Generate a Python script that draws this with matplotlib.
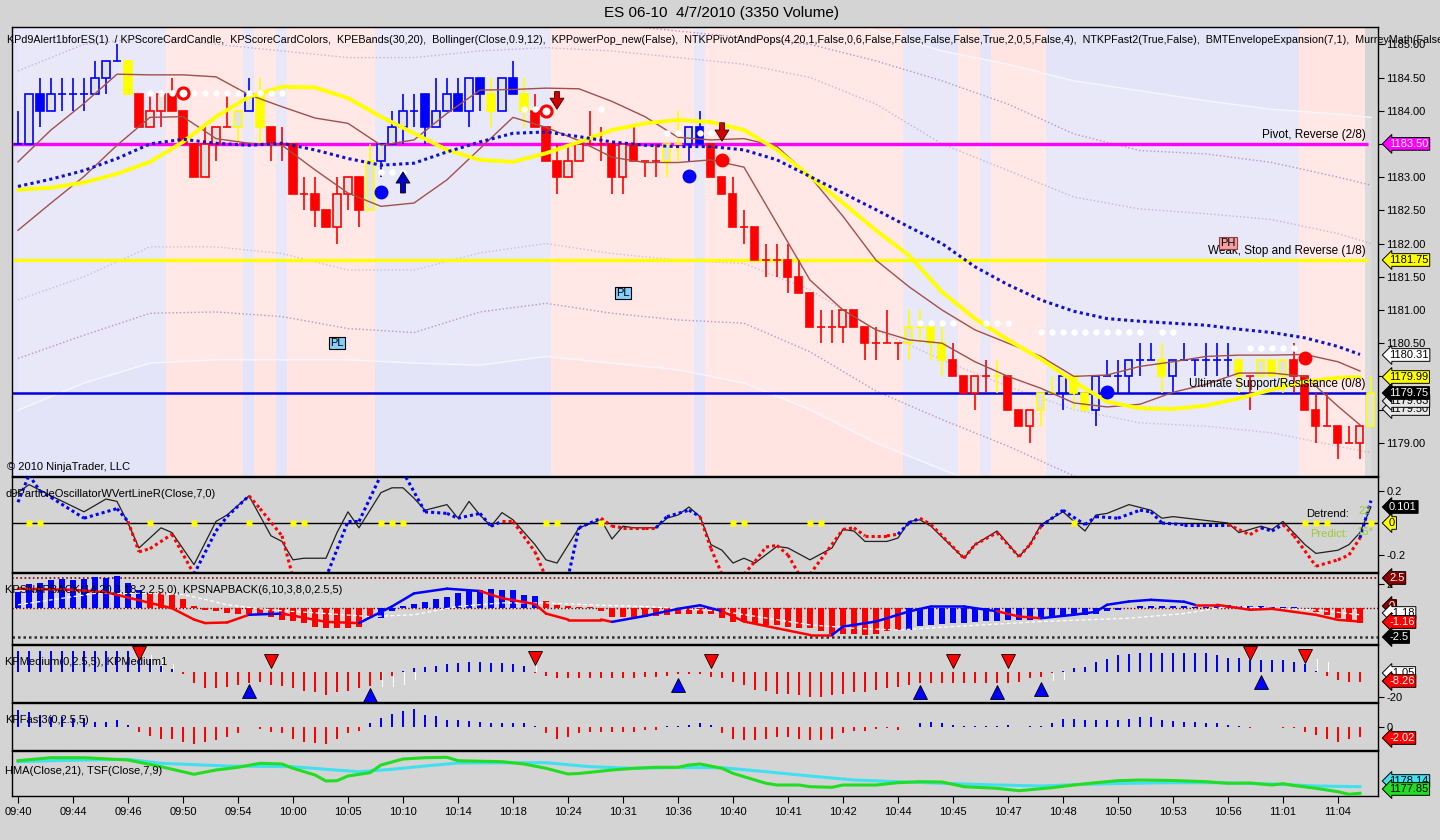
import numpy as np
import matplotlib
matplotlib.use('Agg')
import matplotlib.pyplot as plt
from matplotlib.patches import Rectangle

plt.rcParams['font.family'] = ['Liberation Sans', 'DejaVu Sans']

# ---------------- data ----------------
opens = [1183.50,1183.50,1184.25,1184.00,1184.25,1184.25,1184.25,1184.25,1184.50,1184.75,
         1184.75,1184.25,1183.75,1184.00,1184.25,1184.00,1183.50,1183.00,1183.50,1183.75,
         1183.75,1184.00,1184.25,1183.75,1183.50,1183.50,1182.75,1182.75,1182.50,1182.25,
         1182.75,1183.00,1182.50,1183.25,1183.50,1183.75,1184.00,1184.25,1183.75,1184.00,
         1184.25,1184.00,1184.50,1184.25,1184.00,1184.50,1184.25,1184.00,1183.75,1183.25,
         1183.00,1183.25,1183.50,1183.50,1183.50,1183.00,1183.50,1183.25,1183.25,1183.25,
         1183.50,1183.50,1183.75,1183.50,1183.00,1182.75,1182.25,1182.25,1181.75,1181.75,
         1181.75,1181.50,1181.25,1180.75,1180.75,1180.75,1181.00,1180.75,1180.50,1180.50,
         1180.50,1180.50,1180.75,1180.75,1180.50,1180.25,1180.00,1179.75,1180.00,1180.00,
         1180.00,1179.50,1179.25,1179.50,1179.75,1179.75,1180.00,1179.75,1179.50,1180.00,
         1180.00,1180.00,1180.25,1180.25,1180.25,1180.00,1180.25,1180.25,1180.25,1180.25,
         1180.25,1180.25,1180.00,1180.00,1180.25,1180.00,1180.25,1180.00,1179.50,1179.25,
         1179.25,1179.00,1179.00,1179.25]
highs = [1184.00,1184.25,1184.50,1184.50,1184.50,1184.50,1184.50,1184.75,1184.75,1185.00,
         1184.75,1184.25,1184.25,1184.25,1184.50,1184.00,1183.50,1183.75,1183.75,1184.25,
         1184.00,1184.50,1184.50,1183.75,1183.75,1183.50,1183.00,1183.00,1182.50,1183.00,
         1183.00,1183.00,1183.50,1183.50,1184.00,1184.25,1184.25,1184.25,1184.50,1184.50,
         1184.50,1184.50,1184.50,1184.50,1184.50,1184.75,1184.50,1184.25,1183.75,1183.50,
         1183.50,1183.50,1184.00,1183.75,1183.50,1183.50,1183.75,1183.25,1183.50,1183.50,
         1184.00,1183.75,1184.00,1183.50,1183.00,1183.00,1182.50,1182.25,1182.00,1182.00,
         1182.00,1181.75,1181.25,1181.00,1181.00,1181.00,1181.00,1180.75,1180.75,1181.00,
         1180.50,1181.00,1181.00,1180.75,1180.75,1180.50,1180.00,1180.00,1180.25,1180.25,
         1180.00,1179.50,1179.50,1179.75,1180.00,1180.00,1180.00,1179.75,1180.00,1180.25,
         1180.25,1180.25,1180.50,1180.50,1180.50,1180.25,1180.50,1180.25,1180.50,1180.50,
         1180.50,1180.25,1180.00,1180.25,1180.25,1180.25,1180.50,1180.00,1179.75,1179.75,
         1179.25,1179.25,1179.25,1180.00]
lows = [1183.50,1183.50,1183.75,1184.00,1184.00,1184.00,1184.00,1184.25,1184.25,1184.75,
        1184.25,1183.75,1183.75,1183.75,1184.00,1183.50,1183.00,1183.00,1183.25,1183.75,
        1183.50,1184.00,1183.50,1183.25,1183.25,1182.75,1182.50,1182.25,1182.25,1182.00,
        1182.50,1182.25,1182.50,1183.00,1183.50,1183.50,1183.75,1183.50,1183.75,1184.00,
        1184.00,1183.75,1184.00,1183.75,1184.00,1184.25,1183.75,1183.75,1183.25,1182.75,
        1183.00,1183.25,1183.50,1183.25,1182.75,1182.75,1183.25,1183.00,1183.00,1183.00,
        1183.25,1183.25,1183.50,1183.00,1182.75,1182.25,1182.00,1181.75,1181.50,1181.50,
        1181.25,1181.25,1180.75,1180.50,1180.50,1180.50,1180.75,1180.25,1180.25,1180.50,
        1180.25,1180.25,1180.50,1180.25,1180.00,1180.00,1179.75,1179.50,1179.75,1179.75,
        1179.50,1179.25,1179.00,1179.25,1179.75,1179.50,1179.50,1179.50,1179.25,1180.00,
        1179.75,1179.75,1180.00,1180.25,1179.75,1179.75,1180.25,1180.00,1180.00,1180.00,
        1180.00,1179.75,1179.50,1180.00,1180.00,1179.75,1179.75,1179.50,1179.00,1179.25,
        1178.75,1179.00,1178.75,1179.25]
closes = [1183.50,1184.25,1184.00,1184.25,1184.25,1184.25,1184.25,1184.50,1184.75,1184.75,
          1184.25,1183.75,1184.00,1184.25,1184.00,1183.50,1183.00,1183.50,1183.75,1183.75,
          1184.00,1184.25,1183.75,1183.50,1183.50,1182.75,1182.75,1182.50,1182.25,1182.75,
          1183.00,1182.50,1183.25,1183.50,1183.75,1184.00,1184.00,1183.75,1184.00,1184.25,
          1184.00,1184.50,1184.25,1184.00,1184.50,1184.25,1184.00,1183.75,1183.25,1183.00,
          1183.25,1183.50,1183.50,1183.50,1183.00,1183.50,1183.25,1183.25,1183.25,1183.50,
          1183.50,1183.75,1183.50,1183.00,1182.75,1182.25,1182.25,1181.75,1181.75,1181.75,
          1181.50,1181.25,1180.75,1180.75,1180.75,1181.00,1180.75,1180.50,1180.50,1180.50,
          1180.50,1180.75,1180.75,1180.50,1180.25,1180.00,1179.75,1180.00,1180.00,1180.00,
          1179.50,1179.25,1179.50,1179.75,1179.75,1180.00,1179.75,1179.50,1180.00,1180.00,
          1180.00,1180.25,1180.25,1180.25,1180.00,1180.25,1180.25,1180.25,1180.25,1180.25,
          1180.25,1180.00,1180.00,1180.25,1180.00,1180.25,1180.00,1179.50,1179.25,1179.25,
          1179.00,1179.00,1179.25,1179.75]
bar_colors = ("bbbbbbbbbbyrrrrrrrrryby" "rrrrrrrrry" "bbbbbbbbbbyb" "byrrrrrrrrrrrryybb"
              "rrrrrrrrrrrrrrrrrryyyy" "rrrryrrryyby" "ybbbbbbybbbbbbyryyyrrrrrrry")

time_labels = ["09:40", "09:44", "09:46", "09:50", "09:54", "10:00", "10:05", "10:10", "10:14",
               "10:18", "10:24", "10:31", "10:36", "10:40", "10:41", "10:42", "10:44", "10:45",
               "10:47", "10:48", "10:50", "10:53", "10:56", "11:01", "11:04"]

pink_spans = [(13.5, 20.5), (21.5, 23.5), (24.5, 32.5), (48.5, 61.5), (62.5, 80.5),
              (85.5, 87.5), (88.5, 93.5), (116.5, 122.5)]

# main panel indicator lines, sampled every 3 bars
line_x = list(range(0, 121, 3)) + [122]
yellow_line = [1182.81,1182.84,1182.92,1183.05,1183.23,1183.53,1183.91,1184.21,1184.36,1184.35,
               1184.19,1183.91,1183.66,1183.41,1183.26,1183.23,1183.36,1183.53,1183.71,1183.81,
               1183.86,1183.83,1183.71,1183.41,1183.01,1182.61,1182.20,1181.82,1181.27,1180.87,
               1180.55,1180.26,1179.92,1179.62,1179.52,1179.51,1179.56,1179.67,1179.80,1179.92,
               1179.98,1179.99]
blue_mid = [1182.86,1182.97,1183.10,1183.28,1183.50,1183.57,1183.51,1183.48,1183.51,1183.41,
            1183.28,1183.18,1183.21,1183.38,1183.53,1183.66,1183.68,1183.61,1183.53,1183.48,
            1183.46,1183.46,1183.41,1183.26,1183.01,1182.76,1182.51,1182.25,1182.00,1181.65,
            1181.38,1181.15,1180.98,1180.87,1180.83,1180.80,1180.77,1180.71,1180.66,1180.58,
            1180.45,1180.33]
boll_upper = [1183.23,1183.71,1184.11,1184.55,1184.54,1184.54,1184.51,1184.24,1184.06,1183.89,
              1183.81,1183.48,1183.56,1183.96,1184.31,1184.32,1184.34,1184.33,1184.14,1183.91,
              1183.60,1183.56,1183.58,1183.46,1183.01,1182.41,1181.75,1181.35,1181.00,1180.70,
              1180.50,1180.30,1180.00,1180.02,1180.15,1180.22,1180.30,1180.32,1180.32,1180.33,
              1180.22,1180.08]
boll_lower = [1182.20,1182.61,1183.01,1183.48,1183.90,1183.91,1183.58,1183.51,1183.48,1183.11,
              1182.76,1182.56,1182.61,1182.96,1183.43,1183.90,1183.75,1183.55,1183.30,1183.22,
              1183.22,1183.26,1183.15,1182.30,1181.45,1181.00,1180.70,1180.55,1180.50,1180.22,
              1180.00,1179.82,1179.60,1179.54,1179.58,1179.76,1179.88,1180.05,1180.05,1180.00,
              1179.55,1179.27]

# envelope lines, sampled every 6 bars
env_x = [0, 6, 12, 18, 24, 30, 36, 42, 48, 54, 60, 66, 72, 78, 84, 90, 96, 102, 108, 114, 120, 123]
env_hi2 = [1185.6,1185.7,1185.6,1185.5,1185.4,1185.3,1185.3,1185.4,1185.4,1185.3,1185.2,1185.1,
           1185.0,1184.75,1184.45,1184.1,1183.65,1183.4,1183.35,1183.22,1183.0,1182.88]
env_hi1 = [1184.6,1185.0,1185.1,1185.0,1184.9,1184.8,1184.8,1184.9,1184.95,1184.9,1184.8,1184.7,
           1184.5,1184.1,1183.5,1183.1,1182.7,1182.52,1182.45,1182.36,1182.15,1182.0]
env_lo0 = [1181.15,1181.5,1181.95,1181.95,1181.85,1181.6,1181.6,1181.86,1182.0,1181.85,1181.75,
           1181.7,1181.3,1180.7,1180.25,1179.85,1179.5,1179.3,1179.25,1179.15,1178.95,1178.85]
env_lo1 = [1180.27,1180.62,1180.95,1180.97,1180.90,1180.72,1180.66,1180.97,1181.10,1180.95,
           1180.85,1180.80,1180.37,1179.78,1179.35,1178.95,1178.5,1178.3,1178.2,1178.1,1178.0,
           1177.95]
wh_lo = [1179.49,1179.9,1180.2,1180.25,1180.25,1180.25,1180.2,1180.17,1180.3,1180.2,1180.1,
         1179.9,1179.5,1179.0,1178.6,1178.2,1177.9,1177.7,1177.6,1177.5,1177.4,1177.3]
wh_hi = [1186.5,1186.6,1186.6,1186.5,1186.4,1186.3,1186.3,1186.4,1186.4,1186.3,1186.2,1186.0,
         1185.6,1185.2,1184.9,1184.7,1184.45,1184.3,1184.15,1184.02,1183.95,1183.9]

murrey_levels = [1183.50, 1181.75, 1179.75]
murrey_names = ["Pivot, Reverse (2/8)", "Weak, Stop and Reverse (1/8)",
                "Ultimate Support/Resistance (0/8)"]

white_dot_x = [12,13,14,16,17,18,19,20,21,22,23,24,33,34,35,46,47,53,59,60,62,63,
               82,83,84,85,88,89,90,93,94,95,96,97,98,99,100,101,102,104,105,112,113,114,115,116]
white_dot_y = [1184.26]*12 + [1183.08]*3 + [1184.03]*3 + [1183.66]*4 + [1180.81]*4 + \
              [1180.80]*3 + [1180.67]*12 + [1180.43]*5
red_ring_x = [15, 48]
red_ring_y = [1184.26, 1184.0]
blue_dot_x = [33, 61, 99]
blue_dot_y = [1182.77, 1183.01, 1179.77]
red_dot_x = [64, 117]
red_dot_y = [1183.26, 1180.27]

# oscillator panel
osc_x = [0,1,3,6,8,9,10,11,13,14,16,18,19,21,23,24,25,26,28,29,30,31,33,34,35,36,37,39,40,41,
         42,43,44,45,47,48,49,51,53,54,55,56,58,59,60,61,62,63,64,65,66,67,69,70,72,74,75,76,77,
         79,80,81,82,83,86,87,89,91,92,93,95,97,98,99,101,103,104,105,110,111,113,114,115,117,
         118,120,121,122,123]
osc_black = [0.19,0.24,0.17,0.07,0.15,0.135,0.0,-0.156,-0.03,-0.06,-0.26,0.01,0.05,0.17,-0.08,
             -0.115,-0.23,-0.22,-0.22,-0.06,0.07,-0.03,0.19,0.22,0.22,0.155,0.08,0.115,0.03,0.135,
             0.05,-0.02,0.065,0.02,-0.135,-0.23,-0.25,-0.03,0.02,-0.10,-0.02,-0.03,-0.03,0.03,
             0.05,0.10,0.04,-0.135,-0.17,-0.25,-0.22,-0.25,-0.146,-0.156,-0.23,-0.156,-0.04,
             -0.05,-0.115,-0.115,-0.094,0.01,0.02,-0.02,-0.22,-0.135,-0.05,-0.21,-0.135,-0.01,
             0.07,-0.05,0.05,0.06,0.115,0.08,0.03,0.04,0.0,-0.06,-0.02,-0.04,0.01,-0.135,-0.19,
             -0.17,-0.135,-0.06,0.10]
sig_x = [0,1,2,3,6,9,10,11,12,14,16,18,19,21,22,24,25,28,30,31,33,34,35,37,39,40,42,43,44,45,
         47,48,50,51,53,54,55,57,58,59,61,62,63,64,66,67,68,69,70,71,72,75,76,77,79,80,81,82,83,
         86,87,89,91,92,93,95,97,98,100,102,103,104,106,110,112,113,114,115,116,118,120,121,122,123]
sig_vals = [0.13,0.30,0.20,0.16,0.03,0.09,0.01,-0.18,-0.16,-0.07,-0.32,-0.05,0.04,0.17,0.09,
            -0.08,-0.34,-0.34,0.01,0.01,0.30,0.36,0.32,0.07,0.06,0.03,0.06,-0.02,0.01,0.01,
            -0.18,-0.34,-0.34,-0.03,0.03,-0.02,-0.03,-0.03,-0.03,0.04,0.08,0.04,-0.16,-0.32,
            -0.32,-0.24,-0.15,-0.14,-0.20,-0.32,-0.32,-0.04,-0.03,-0.08,-0.08,-0.07,0.0,0.03,
            -0.01,-0.22,-0.135,-0.06,-0.21,-0.135,-0.02,0.08,-0.01,0.04,0.03,0.08,0.07,0.0,
            -0.01,-0.01,-0.073,-0.03,-0.05,-0.01,-0.08,-0.27,-0.23,-0.20,-0.094,0.14]
sig_blue_spans = [(0, 10), (16, 21), (28, 44), (50, 53), (58, 62), (80, 82), (93, 110),
                  (113, 115), (122, 123)]
osc_marks = [1,2,12,16,21,25,26,33,34,35,48,49,53,65,66,72,73,96,117,118,119,123]

# KPSNAPBACK panel
snap_hist = [1.3,2.0,2.1,2.3,2.4,2.3,2.4,2.6,2.5,2.7,2.1,1.5,1.2,1.2,1.1,0.7,0.1,-0.2,-0.3,-0.45,
             -0.5,-0.5,-0.6,-0.75,-1.0,-1.15,-1.3,-1.6,-1.75,-1.75,-1.75,-1.6,-0.9,-0.9,-0.3,0.1,
             0.3,0.5,0.7,0.9,1.2,1.4,1.5,1.6,1.5,1.5,1.1,1.0,0.6,0.2,0.1,0.05,0.05,-0.3,-0.8,-0.8,
             -0.75,-0.75,-0.7,-0.6,-0.55,-0.5,-0.5,-0.55,-0.9,-1.2,-1.2,-1.35,-1.45,-1.5,-1.6,-1.7,
             -1.75,-2.0,-2.2,-2.2,-2.2,-2.3,-2.2,-2.0,-1.9,-1.9,-1.55,-1.45,-1.4,-1.3,-1.3,-1.2,
             -1.1,-1.1,-1.0,-1.0,-1.0,-0.9,-0.8,-0.7,-0.6,-0.6,-0.5,-0.3,-0.2,0.0,0.1,0.1,0.1,0.1,
             0.1,0.05,0.05,0.15,0.2,0.1,0.1,0.1,0.05,0.05,0.05,0.0,-0.4,-0.6,-0.9,-1.0,-1.3,np.nan]
snap_blue_spans = [(0, 12), (33, 48), (81, 117)]
snap_x = [0,5,8,12,14,16,17,19,21,24,28,31,34,36,39,42,44,47,48,50,53,54,57,60,62,64,66,69,72,
          74,75,78,81,83,86,88,89,91,93,96,98,99,101,103,106,107,109,112,114,118,120,122]
snap_line = [1.6,1.5,1.3,0.4,-0.05,-1.0,-1.3,-1.25,-0.6,-0.5,-1.2,-1.3,0.1,1.2,1.6,1.4,0.8,0.3,
             -0.5,-1.0,-1.0,-1.2,-0.7,-0.1,0.2,-0.3,-1.17,-1.74,-2.3,-2.3,-1.6,-1.17,-0.32,0.1,
             0.1,-0.18,-0.3,-0.75,-0.89,-0.6,-0.35,0.24,0.52,0.66,0.5,0.24,0.24,-0.18,-0.1,
             -0.61,-1.03,-1.17]
snap_line_blue = [(21, 24), (31, 42), (54, 64), (74, 89), (93, 107)]
snap_white_x = [0,7,12,15,17,19,23,28,32,36,40,44,48,53,57,64,72,76,80,85,93,101,106,110,114,118,122]
snap_white = [0.24,1.2,1.2,1.1,0.7,0.24,-0.2,-0.5,-0.75,-0.6,0.1,0.4,0.4,0.2,0.1,-0.3,-1.45,
              -1.74,-1.88,-1.6,-1.17,-0.89,-0.5,0.1,-0.05,-0.2,-0.6]

# KPMedium panel
kp_medium = [16,16,16,16,16,16,16,16,16,16,16,15,10,5,2,-2,-9,-13,-13,-12,-10,-9,-8,-10,-11,
             -13,-15,-16,-18,-16,-15,-13,-11,-6,-3,1,3,4,5,6,7,8,8,7,7,6,5,-1,-3,-5,-5,-5,-5,
             -5,-5,-5,-5,-4,-4,-3,-2,-2,-2,-4,-5,-8,-10,-14,-15,-17,-17,-18,-20,-20,-18,-17,
             -16,-16,-14,-13,-12,-10,-9,-9,-9,-9,-9,-9,-9,-9,-9,-8,-5,-4,-1,1,3,4,8,10,13,14,
             14.5,14.5,14.5,14.5,14.5,14.5,14.5,13,10.5,10.5,9,9,9,9,8,6,1,-3,-6,-8,-8,np.nan]
medium1_x = [12, 13, 14, 33, 34, 35, 36, 47, 94, 95, 118, 119]
medium1 = [13, 11, 6, -12, -12, -10, -6, 9, -7, -6, 10, 8]
med_dn_x = [11, 23, 47, 63, 85, 90, 112, 117]
med_dn_y = [14.5, 8.5, 10.8, 8.7, 8.7, 8.7, 15.0, 12.6]
med_up_x = [21, 32, 60, 82, 89, 93, 113]
med_up_y = [-15.2, -18.4, -10.5, -15.5, -15.5, -13.1, -7.9]

# KPFast3 panel
kp_fast = [16.7,15,11.7,10,10,8.4,8.4,5,5,6.7,1.7,-5,-9.3,-11.7,-11.7,-15,-16.7,-15,-13.3,-10,
           -6,0,-1.7,-5,-6,-11.7,-15,-15.7,-16.7,-11.7,-6,-4,3.4,8.4,12.7,16,17.4,11.7,10.7,6.7,
           6.7,6,5,4,4,4,3.4,1,-6.6,-11.6,-10,-6.6,-5,-5,-5,-5,-5,-3.3,-3.3,0.8,0.8,1.7,3.4,1.7,
           -6.6,-11.6,-13.3,-13.3,-11.6,-10,-10,-11.6,-13.3,-13.3,-11.6,-6.6,-4,-4,-1.7,-0.8,
           -3.3,0,4,5,4,1.7,0.8,0.8,0.8,0.8,1.7,0,0.8,0.8,3.4,7.4,7.4,6.7,6.7,6.7,6.7,7.4,9.4,
           9.4,6.7,6,5,5,4,4,1.7,0.8,-0.8,0,0,-0.8,-0.8,-5,-8.3,-11.6,-15,-11.6,-10,np.nan]

# HMA / TSF panel
hma_x = [0,3,6,10,13,16,18,20,22,24,25,27,28,29,30,32,33,35,37,39,40,44,46,48,50,51,54,56,58,60,
         61,62,64,65,66,68,69,71,72,74,75,78,80,82,84,86,89,91,94,96,98,100,102,105,108,110,112,
         114,115,116,118,120,121,122]
hma = [35.3,38.3,38.3,36,29.3,21.7,26,28.7,32.7,32,27.7,21,15,15.3,20,23.3,31,37,38.3,38.7,35.3,
       34.3,32,27.7,22,22.5,26,27.7,28.7,28.7,31,32,27.7,22.7,19.3,12.7,11,11,9.3,8.7,11,11,13.3,
       14.3,14,9.3,7.7,5.3,8.3,11,13.3,15.3,16,15.5,14.3,12.7,13,11,12.3,10.5,7.7,4.3,1.7,2.7]
tsf_x = [0,4,10,13,19,25,28,31,34,37,40,48,52,56,60,64,68,72,76,80,84,89,93,97,101,105,109,114,118,122]
tsf = [34.3,35.5,36.7,32.7,30,29.3,26.7,24.3,26.7,30,33,33.3,29.3,27.7,28.5,28.3,24.3,20,16,14.3,
       12.7,11,10,11.7,12.7,13.3,13.3,12,10,9.3]

# ---------------- drawing ----------------
W, H = 1440, 840
BG = '#D4D4D4'
BLUE, RED, YEL = '#0000FF', '#FF0000', '#FFFF00'
cmap = {'b': BLUE, 'r': RED, 'y': YEL}
XL = (-0.545, 123.64)

fig = plt.figure(figsize=(W / 100, H / 100), dpi=100)
fig.patch.set_facecolor(BG)


def panel(y0, y1, fc):
    a = fig.add_axes([12 / W, 1 - y1 / H, (1378 - 12) / W, (y1 - y0) / H])
    a.set_facecolor(fc)
    a.set_xlim(*XL)
    a.set_xticks([])
    a.yaxis.tick_right()
    a.tick_params(axis='y', direction='out', length=4, labelsize=8, pad=2)
    for s in a.spines.values():
        s.set_linewidth(1)
    return a


def ftext(x, y, s, **kw):
    kw.setdefault('fontsize', 8)
    kw.setdefault('va', 'center')
    return fig.text(x / W, 1 - y / H, s, **kw)


def tag(y, s, fc, tc='black'):
    ftext(1389, y, s, color=tc, ha='left',
          bbox=dict(boxstyle='larrow,pad=0.12', fc=fc, ec='black', lw=0.7))


def spans_colors(xs, spans, on=BLUE, off=RED):
    return [on if any(a <= x < b for a, b in spans) else off for x in xs]


def colored_line(a, xs, ys, spans, **kw):
    cols = spans_colors(xs[:-1], spans)
    for k in range(len(xs) - 1):
        a.plot(xs[k:k + 2], ys[k:k + 2], color=cols[k], solid_capstyle='round', **kw)


# ---- main price panel
ax = panel(27.3, 476, '#E4E4F8')
ax.set_ylim(1178.50, 1185.256)
for a0, a1 in pink_spans:
    ax.axvspan(a0, a1, color='#FFE4E1', lw=0, zorder=0)
ax.axvspan(122.5, XL[1], color=BG, lw=0, zorder=0)
ax.fill_between(env_x, wh_lo, wh_hi, color='white', alpha=0.18, lw=0, zorder=1)
ax.plot(env_x, wh_lo, color='#F6F6FF', lw=1, zorder=1)
ax.plot(env_x, wh_hi, color='#F6F6FF', lw=1, zorder=1)
for ev, al in [(env_hi2, 0.85), (env_hi1, 0.55), (env_lo0, 0.45), (env_lo1, 0.85)]:
    ax.plot(env_x, ev, color='#B880C0', lw=1, ls=':', alpha=al, zorder=1)

for lv, nm, c, lw in zip(murrey_levels, murrey_names, ['#FF00FF', YEL, '#0000E0'], [2.4, 2.4, 1.8]):
    ax.hlines(lv, XL[0], 122.7, color=c, lw=lw, zorder=2)
    ax.text(122.5, lv + 0.04, nm, ha='right', va='bottom', fontsize=8.5, zorder=6)

for i in range(len(opens)):
    o, h, l, c = opens[i], highs[i], lows[i], closes[i]
    col = cmap[bar_colors[i]]
    ax.vlines(i, l, h, color=col, lw=1.2, zorder=3)
    if o == c:
        ax.hlines(c, i - 0.33, i + 0.33, color=col, lw=1.2, zorder=3)
    else:
        ax.add_patch(Rectangle((i - 0.32, min(o, c)), 0.64, abs(c - o),
                               facecolor=col if c < o else '#E2E2E2',
                               edgecolor=col, lw=1.2, zorder=3.5))

ax.plot(line_x, boll_upper, color='#A0504A', lw=1, zorder=4)
ax.plot(line_x, boll_lower, color='#A0504A', lw=1, zorder=4)
ax.plot(line_x, yellow_line, color=YEL, lw=2.8, zorder=4, solid_capstyle='round')
ax.plot(line_x, blue_mid, color='#1010D0', lw=2.2, ls=(0, (1, 1.1)), zorder=4)

ax.plot(white_dot_x, white_dot_y, 'o', color='white', ms=4.6, mec='none', zorder=5)
ax.plot(red_ring_x, red_ring_y, 'o', mfc='white', mec=RED, mew=2.2, ms=8, zorder=5)
ax.plot(blue_dot_x, blue_dot_y, 'o', color=BLUE, ms=9, zorder=5)
ax.plot(red_dot_x, red_dot_y, 'o', color=RED, ms=9, zorder=5)
arrow = dict(arrowstyle='simple,head_width=1.0,head_length=0.8,tail_width=0.35', lw=0.6)
ax.annotate('', xy=(35, 1183.12), xytext=(35, 1182.72),
            arrowprops=dict(fc='#0000C8', ec='black', **arrow), zorder=5)
for bx, top, bot in [(49, 1184.33, 1183.98), (64, 1183.86, 1183.50)]:
    ax.annotate('', xy=(bx, bot), xytext=(bx, top),
                arrowprops=dict(fc='#D00000', ec='#400000', **arrow), zorder=5)

box = dict(boxstyle='square,pad=0.1', ec='black', lw=0.8)
ax.text(29, 1180.50, 'PL', fontsize=8, ha='center', va='center', bbox=dict(fc='#87CEFA', **box), zorder=6)
ax.text(55, 1181.26, 'PL', fontsize=8, ha='center', va='center', bbox=dict(fc='#87CEFA', **box), zorder=6)
ax.text(110, 1182.01, 'PH', fontsize=8, ha='center', va='center',
        bbox=dict(boxstyle='square,pad=0.1', fc='#F4A0A0', ec='#904040', lw=0.8), zorder=6)

ax.set_yticks(np.arange(1179.0, 1185.01, 0.5))
ax.set_yticklabels(['%.2f' % v for v in np.arange(1179.0, 1185.01, 0.5)])

# ---- oscillator panel
ao = panel(477, 572, BG)
ao.set_ylim(-0.306, 0.2875)
ao.axhline(0, color='black', lw=1, zorder=1)
ao.plot(osc_x, osc_black, color='#202020', lw=0.9, zorder=2)
colored_line(ao, sig_x, sig_vals, sig_blue_spans, lw=2.2, ls=(0, (1, 1)), zorder=3)
ao.plot(osc_marks, [0] * len(osc_marks), 's', color=YEL, ms=5, mec='none', zorder=4)
ao.set_yticks([-0.2, 0.2])
ao.set_yticklabels(['-0.2', '0.2'])

# ---- snapback panel
asn = panel(573, 644.3, BG)
asn.set_ylim(-3.09, 2.92)
asn.axhline(2.5, color='#800000', lw=1.2, ls=(0, (1, 1.5)))
asn.axhline(0, color='#800000', lw=1.0, ls=(0, (1, 1.5)))
asn.axhline(-2.5, color='#303030', lw=1.8, ls=(0, (1, 1.2)))
bar_x = np.arange(len(snap_hist))
asn.bar(bar_x, snap_hist, width=0.5, color=spans_colors(bar_x, snap_blue_spans), zorder=2)
asn.plot(snap_white_x, snap_white, color='white', lw=0.9, ls=(0, (3, 2)), zorder=3)
colored_line(asn, snap_x, snap_line, snap_line_blue, lw=1.8, zorder=4)
asn.set_yticks([2])
asn.set_yticklabels(['2'])

# ---- KPMedium panel
am = panel(645, 702.3, BG)
am.set_ylim(-23.9, 21.1)
med = np.array(kp_medium, dtype=float)
am.bar(bar_x, med, width=0.2, color=[BLUE if v > 0 else RED for v in np.nan_to_num(med)], zorder=2)
am.bar(np.array(medium1_x) + 0.12, medium1, width=0.14, color='white', zorder=2)
am.plot(med_dn_x, med_dn_y, 'v', color=RED, mec='black', mew=0.6, ms=10, zorder=4)
am.plot(med_up_x, med_up_y, '^', color=BLUE, mec='black', mew=0.6, ms=10, zorder=4)
am.set_yticks([-20])
am.set_yticklabels(['-20'])

# ---- KPFast panel
af = panel(703, 750.3, BG)
af.set_ylim(-23.3, 23.7)
fst = np.array(kp_fast, dtype=float)
af.bar(bar_x, fst, width=0.25, color=[BLUE if v > 0 else RED for v in np.nan_to_num(fst)], zorder=2)
af.set_yticks([0])
af.set_yticklabels(['0'])

# ---- HMA panel
ah = panel(751, 796, BG)
ah.set_ylim(0, 45)
ah.plot(tsf_x, tsf, color='#40E0F0', lw=2.2, zorder=2)
ah.plot(hma_x, hma, color='#22DD22', lw=2.2, zorder=3)
ah.set_yticks([])
tick_pos = np.arange(0, 121, 5)
ah.set_xticks(tick_pos)
ah.set_xticklabels(time_labels)
ah.tick_params(axis='x', direction='out', length=5, labelsize=8, pad=3)

# ---- texts
ftext(722, 13, 'ES 06-10  4/7/2010 (3350 Volume)', fontsize=11, ha='center')
ftext(7, 40, 'KPd9Alert1bforES(1)  / KPScoreCardCandle,  KPScoreCardColors,  KPEBands(30,20),  '
      'Bollinger(Close,0.9,12),  KPPowerPop_new(False),  NTKPPivotAndPops(4,20,1,False,0,6,False,'
      'False,False,False,True,2,0,5,False,4),  NTKPFast2(True,False),  BMTEnvelopeExpansion(7,1),  '
      'MurreyMath(False,Da', ha='left', fontsize=7.75)
ftext(7, 467, '\u00a9 2010 NinjaTrader, LLC', ha='left')
ftext(5, 494, 'd9ParticleOscillatorWVertLineR(Close,7,0)', ha='left')
ftext(5, 590, 'KPSNAPBACK(14,20,3,18,2,2.5,0), KPSNAPBACK(6,10,3,8,0,2.5,5)', ha='left')
ftext(5, 662, 'KPMedium(0,2.5,5), KPMedium1', ha='left')
ftext(5, 720, 'KPFast3(0,2.5,5)', ha='left')
ftext(5, 771, 'HMA(Close,21), TSF(Close,7,9)', ha='left')
ftext(1306, 514, 'Detrend:', ha='left')
ftext(1358, 511, '22', ha='left', color='#9ACD32')
ftext(1310, 534, 'Predict:', ha='left', color='#9ACD32')
ftext(1356, 532, '16\u00b0', ha='left', color='#9ACD32')

# ---- right-hand value tags
tag(143.9, '1183.50', '#FF00FF', 'white')
tag(260, '1181.75', YEL)
tag(355, '1180.31', 'white')
tag(409, '1179.50', '#E8E8E8')
tag(401, '1179.63', '#E8E8E8')
tag(377, '1179.99', YEL)
tag(393, '1179.75', 'black', 'white')
tag(507, '0.101', 'black', 'white')
tag(523, '0', YEL)
tag(578, '2.5', '#8B0000', 'white')
tag(606, '0', '#8B0000', 'white')
tag(613, '-1.18', 'white')
tag(622, '-1.16', RED, 'white')
tag(637, '-2.5', 'black', 'white')
tag(673, '-1.05', 'white')
tag(681, '-8.26', RED, 'white')
tag(738, '-2.02', RED, 'white')
tag(781, '1178.14', '#40E0F0')
tag(789, '1177.85', '#22DD22')

fig.savefig('out.png', dpi=100, facecolor=fig.get_facecolor())
